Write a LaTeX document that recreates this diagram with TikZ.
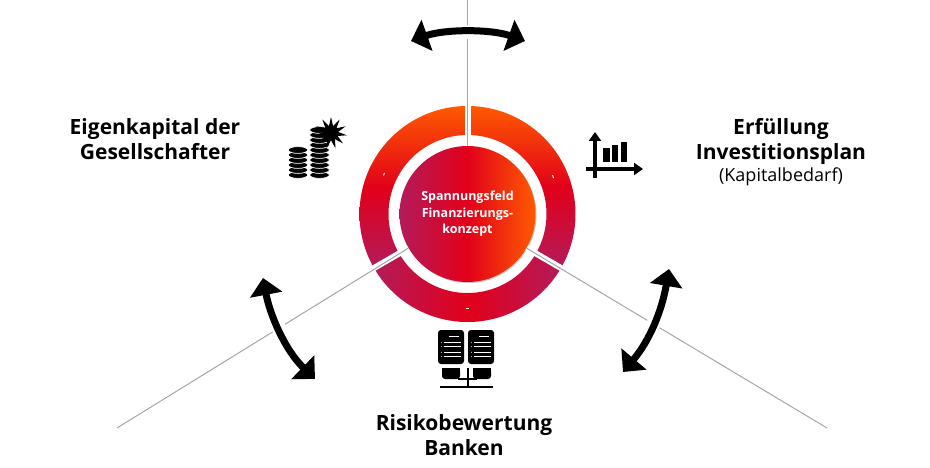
\documentclass[tikz,border=0pt]{standalone}
\usepackage{fontspec}
\setmainfont{Open Sans}
\usetikzlibrary{arrows.meta,shapes.geometric,shadows}
\definecolor{cOrange}{HTML}{FF5A00}
\definecolor{cRed}{HTML}{E2001A}
\definecolor{cPurple}{HTML}{B31B5B}
\definecolor{cSpoke}{HTML}{A6A6A6}

\begin{document}
\begin{tikzpicture}[x=1pt,y=-1pt,
      seg/.style={draw=none},
      vgrad/.style={top color=cOrange,bottom color=cPurple,middle color=cRed},
      hgrad/.style={left color=cPurple,right color=cPurple,middle color=cRed},
      core/.style={circle,minimum size=136pt,inner sep=0pt,align=center,text=white,
        left color=cPurple,right color=cOrange,middle color=cRed,
        font=\fontsize{12.5}{16.5}\selectfont\bfseries,
        drop shadow={shadow xshift=1pt,shadow yshift=-1pt,opacity=.4,fill=black!60}},
      gapline/.style={white,line width=6pt},
      spoke/.style={cSpoke,line width=1pt},
      swing/.style={{Triangle[length=17pt,width=32pt]}-{Triangle[length=17pt,width=32pt]},line width=7pt,
        preaction={draw=white,line width=14pt,-}},
      lbl/.style={align=center,font=\fontsize{21}{25}\selectfont\bfseries},
      coin/.style={fill=black,draw=white,line width=.7pt},
      tick/.style={white,line width=1pt},
      slot/.style={white,line width=1pt}]
    \useasboundingbox (0,0) rectangle (930,468);
    \coordinate (c) at (467.5,214);
    \foreach \a/\b/\g in {90/210/vgrad,-30/90/vgrad,210/330/hgrad}
      \path[seg,\g] ([shift=(\a:108pt)]c) arc[start angle=\a,end angle=\b,radius=108pt]
        -- ([shift=(\b:79pt)]c) arc[start angle=\b,end angle=\a,radius=79pt] -- cycle;
    \node[core] (hub) at (c) {Spannungsfeld\\Finanzierungs-\\konzept};
    \coordinate (top) at (467.5,-1);
    \coordinate (left) at (117,428);
    \coordinate (right) at (827,428);
    \foreach \e/\s in {top/90,left/210,right/330} {
      \draw[gapline] (hub.\s) -- ([shift=(\s:112pt)]c);
      \draw[spoke] (hub.\s) -- (\e);
    }
    \draw[tick] (383.5,175.5) -- (384.5,173);
    \draw[tick] (552.5,175) -- (553.5,178);
    \draw[tick] (465.5,308.5) -- (469,308.5);

    \coordinate (tl) at (411,41);
    \coordinate (tr) at (525,41);
    \coordinate (ll) at (263,278);
    \coordinate (lr) at (315,379);
    \coordinate (rl) at (669,269);
    \coordinate (rr) at (623,372);
    \draw[swing] (tl) .. controls (445,29) and (491,29) .. (tr);
    \draw[swing] (ll) .. controls (270,315) and (285,350) .. (lr);
    \draw[swing] (rl) .. controls (662,310) and (650,340) .. (rr);

    \node[lbl] (eigen) at (155,139.5) {Eigenkapital der\\Gesellschafter};
    \node[lbl,anchor=north] (erf) at (781,115) {Erfüllung\\Investitionsplan\\[-3pt]{\fontsize{18}{20}\selectfont\mdseries (Kapitalbedarf)}};
    \node[lbl] (risk) at (464,435.5) {Risikobewertung\\Banken};

    \foreach \y in {175,170,...,150}
      \draw[coin] (298,\y) ellipse[x radius=9.8,y radius=3.4];
    \foreach \y in {175,170,...,130}
      \draw[coin] (319.5,\y) ellipse[x radius=9.8,y radius=3.4];
    \node[star,star points=11,star point ratio=2.2,fill=black,inner sep=0pt,minimum size=32pt] (spark) at (331,133) {};

    \draw[line width=3.5pt,-{Triangle[length=9pt,width=12pt]}] (595,178) -- (595,132);
    \draw[line width=3.5pt,-{Triangle[length=9pt,width=12pt]}] (586,169) -- (643,169);
    \foreach \x/\t in {603.3/147.7,611.7/145.3,620.7/142.3}
      \fill (\x,\t) rectangle (\x+6.2,162.3);

    \foreach \x in {438,468} {
      \fill[rounded corners=3pt] (\x,330) rectangle (\x+26,364);
      \draw[slot] (\x+11,336.7) -- (\x+21,336.7);
      \foreach \y in {342.7,346.7,352.3,356.7} {
        \draw[slot] (\x+6,\y) -- (\x+23,\y);
        \fill[white] (\x+3.3,\y) circle (.5);
      }
    }
    \fill[rounded corners=3pt] (442,368) -- (460,368) -- (460,379) -- (442,379) -- cycle;
    \fill[rounded corners=3pt] (473,368) -- (491,368) -- (491,379) -- (473,379) -- cycle;
    \fill (442,368) rectangle (460,372);
    \fill (473,368) rectangle (491,372);
    \draw[line width=2pt] (467.5,367.5) -- (467.5,387);
    \draw[line width=2pt] (458,379) -- (477,379);
    \draw[line width=2pt] (440,387) -- (493,387);
  \end{tikzpicture}
\end{document}
